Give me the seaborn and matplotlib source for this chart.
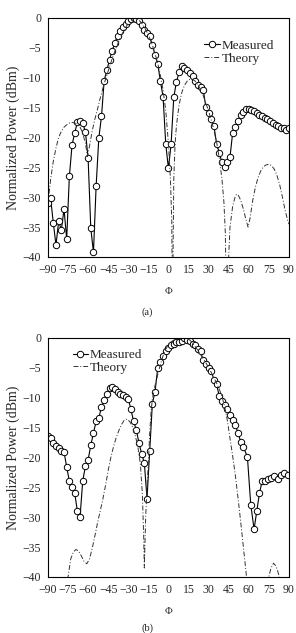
import numpy as np
import pandas as pd
import seaborn as sns
import matplotlib.pyplot as plt

# (a) measured pattern
phi_a_meas = list(range(-90, 92, 2))
pow_a_meas = [-31.0, -30.2, -34.3, -38.0, -34.0, -35.5, -32.0, -37.0, -26.5, -21.3,
              -19.2, -17.5, -17.2, -17.6, -19.1, -23.5, -35.2, -39.2, -28.1, -20.1,
              -16.5, -10.5, -8.8, -7.0, -5.5, -4.2, -3.0, -2.3, -1.6, -1.0,
              -0.6, -0.2, 0.0, -0.2, -0.6, -1.2, -2.0, -2.6, -3.1, -4.6,
              -6.2, -7.7, -10.6, -13.2, -21.1, -25.2, -21.1, -13.3, -10.7, -9.1,
              -8.1, -8.4, -8.8, -9.2, -9.8, -10.5, -11.2, -11.6, -12.0, -15.0,
              -16.0, -17.0, -18.1, -21.1, -22.6, -24.2, -25.0, -24.2, -23.3, -19.2,
              -18.3, -17.2, -16.3, -15.7, -15.2, -15.2, -15.4, -15.6, -15.9, -16.2,
              -16.4, -16.7, -17.0, -17.3, -17.6, -17.9, -18.1, -18.4, -18.5, -18.7,
              -18.4]

# (a) theory
phi_a_th = [-90, -88, -86, -84, -82, -80, -78, -76, -74, -72, -70, -68, -66, -64, -62,
            -60.5, -59, -57, -55, -53, -51, -49, -47, -45, -43, -41, -39, -37, -35,
            -33, -31, -29, -27, -26, -24, -22, -20, -18, -16, -14, -12, -10, -8, -6,
            -4, -2, 0, 1.5, 2.5, 3, 4, 5, 6, 8, 10, 12, 14, 16, 18, 20, 22, 24, 26,
            28, 30, 32, 34, 36, 38, 40, 41.5, 42.5, 43.5, 45, 46, 48, 50, 51, 52, 54,
            56, 58, 59.5, 61, 63, 65, 67, 69, 71, 73, 75, 77, 79, 81, 83, 85, 87, 89, 90]
pow_a_th = [-31, -27, -24, -21.8, -20, -19, -18.3, -17.9, -17.6, -17.5, -17.6, -17.8,
            -18.3, -19.3, -21, -23.2, -21.5, -19, -17, -15.3, -13.5, -11.8, -10.3,
            -8.9, -7.5, -6.2, -5, -3.9, -2.9, -2, -1.3, -0.6, -0.2, 0, -0.1, -0.4,
            -0.9, -1.6, -2.4, -3.4, -4.6, -6, -7.6, -9.6, -12.1, -15.5, -21, -27, -34,
            -50, -27, -21, -18, -14.5, -12.5, -11.3, -10.6, -10.3, -10.3, -10.6, -11.2,
            -12, -13, -14.3, -15.6, -17.1, -18.8, -20.8, -23.5, -27, -31, -36, -50,
            -40, -35, -31.5, -29.8, -29.5, -29.6, -30.5, -32, -33.8, -35, -33.5, -30.5,
            -28.3, -26.7, -25.6, -24.9, -24.6, -24.5, -24.7, -25.3, -26.3, -27.8,
            -29.8, -32, -33.8, -34.5]

# (b) measured pattern
phi_b_meas = [-90, -88, -86, -84, -82, -80, -78, -76, -74, -72, -70, -68, -66, -64, -62,
              -60, -58, -56, -54, -52, -50, -48, -46, -44, -42, -40, -38, -36, -34, -32,
              -30, -28, -26, -24, -22, -20, -18, -16, -14, -12, -10, -8, -6, -4, -2,
              0, 2, 4, 6, 8, 10, 12, 14, 16, 18, 20, 22, 24, 26, 28, 30, 32, 34, 36,
              38, 40, 42, 44, 46, 48, 50, 52, 54, 56, 59, 61.5, 64, 66, 68, 70, 72,
              74.5, 77, 79, 81.5, 84, 86.5, 89]
pow_b_meas = [-16.4, -16.8, -17.6, -18.1, -18.5, -18.9, -19.1, -21.6, -24.0, -24.9,
              -26.0, -29.0, -29.9, -23.9, -21.5, -20.4, -18.0, -15.9, -14.0, -13.4,
              -11.6, -10.4, -9.4, -8.4, -8.2, -8.6, -9.0, -9.4, -9.6, -9.9,
              -10.2, -12.0, -14.0, -15.4, -17.6, -19.4, -20.9, -26.9, -19.0, -11.0,
              -9.0, -5.1, -4.1, -3.0, -2.3, -1.7, -1.3, -1.0, -0.8, -0.7,
              -0.5, 0.0, -0.3, -0.6, -1.0, -1.3, -1.9, -2.3, -3.8, -4.4,
              -5.0, -5.6, -7.0, -7.8, -9.8, -10.5, -11.2, -11.9, -12.9, -13.7,
              -14.6, -15.9, -17.4, -18.3, -19.9, -27.9, -32.0, -29.0, -26.0, -24.0,
              -23.9, -23.7, -23.4, -23.2, -23.7, -22.9, -22.6, -22.9]

# (b) theory
phi_b_th = [-90, -77, -75, -73, -71, -69, -67, -65, -63, -61, -59, -57, -55, -53, -51,
            -49, -47, -45, -43, -41, -39, -37, -35, -33, -31, -29, -27, -25, -23, -21,
            -19.5, -18.5, -18, -17, -16, -15, -14, -13, -12, -10, -8, -6, -4, -2, 0,
            2, 4, 6, 8, 10, 12, 14, 16, 18, 20, 22, 24, 26, 28, 30, 32, 34, 36, 38,
            40, 42, 44, 46, 48, 50, 52, 54, 56, 58, 59, 74, 75, 76.5, 78.5, 80.5, 82,
            83.5, 90]
pow_b_th = [-50, -44, -40, -37, -35.8, -35.4, -35.7, -36.5, -37.4, -37.8, -37.0, -35.3,
            -33.2, -31, -29, -27, -24.7, -22.2, -20, -18.2, -16.7, -15.5, -14.5, -13.8,
            -13.6, -14, -14.8, -16.2, -18, -21, -26, -33, -38.5, -30, -25, -21, -16,
            -12.5, -10.2, -8, -6.2, -4.5, -3.0, -1.9, -1.2, -0.7, -0.4, -0.2, -0.1, 0, 0,
            -0.1, -0.4, -0.9, -1.5, -2.1, -2.8, -3.5, -4.2, -5, -5.8, -6.7, -7.6, -8.6,
            -9.8, -11.5, -13.8, -16.8, -19.8, -23, -26.8, -30.8, -35, -39.2, -42, -41,
            -40, -38.6, -37.7, -38.2, -39.3, -40.5, -50]

sns.set_style("white")
plt.rcParams['font.family'] = ['Liberation Serif', 'DejaVu Serif']

fig = plt.figure(figsize=(2.96, 6.33), dpi=100)
ax1 = fig.add_axes([0.162, 0.594, 0.814, 0.378])
ax2 = fig.add_axes([0.162, 0.0885, 0.814, 0.378])

panels = [
    (ax1, phi_a_meas, pow_a_meas, phi_a_th, pow_a_th, '(a)', 1 - 312 / 633,
     dict(loc='upper right', bbox_to_anchor=(0.96, 0.93))),
    (ax2, phi_b_meas, pow_b_meas, phi_b_th, pow_b_th, '(b)', 1 - 628 / 633,
     dict(loc='upper left', bbox_to_anchor=(0.08, 0.975))),
]

for ax, xm, ym, xt, yt, tag, ty, legkw in panels:
    meas = pd.DataFrame({'phi': xm, 'power': ym})
    th = pd.DataFrame({'phi': xt, 'power': yt})
    sns.lineplot(data=meas, x='phi', y='power', ax=ax, color='black', lw=0.8,
                 marker='o', markersize=4.6, markerfacecolor='white',
                 markeredgecolor='black', markeredgewidth=0.7, label='Measured')
    sns.lineplot(data=th, x='phi', y='power', ax=ax, color='#333333', lw=0.7,
                 linestyle=(0, (5, 2, 1, 2)), label='Theory')
    ax.set_xlim(-90, 90)
    ax.set_ylim(-40, 0)
    ax.set_xticks(range(-90, 91, 15))
    ax.set_yticks(range(-40, 1, 5))
    ax.tick_params(direction='in', length=3, width=0.6, labelsize=8.5, pad=5)
    for s in ax.spines.values():
        s.set_linewidth(0.8)
        s.set_color('black')
    ax.set_xlabel('Φ', fontsize=7.5, labelpad=8)
    ax.set_ylabel('Normalized Power (dBm)', fontsize=10, labelpad=2)
    leg = ax.legend(frameon=False, fontsize=9.5, handlelength=1.2, handletextpad=0.1,
                    labelspacing=0.05, borderaxespad=0, **legkw)
    fig.text(0.497, ty, tag, ha='center', va='center', fontsize=7.5)

fig.savefig('out.png', dpi=100)
